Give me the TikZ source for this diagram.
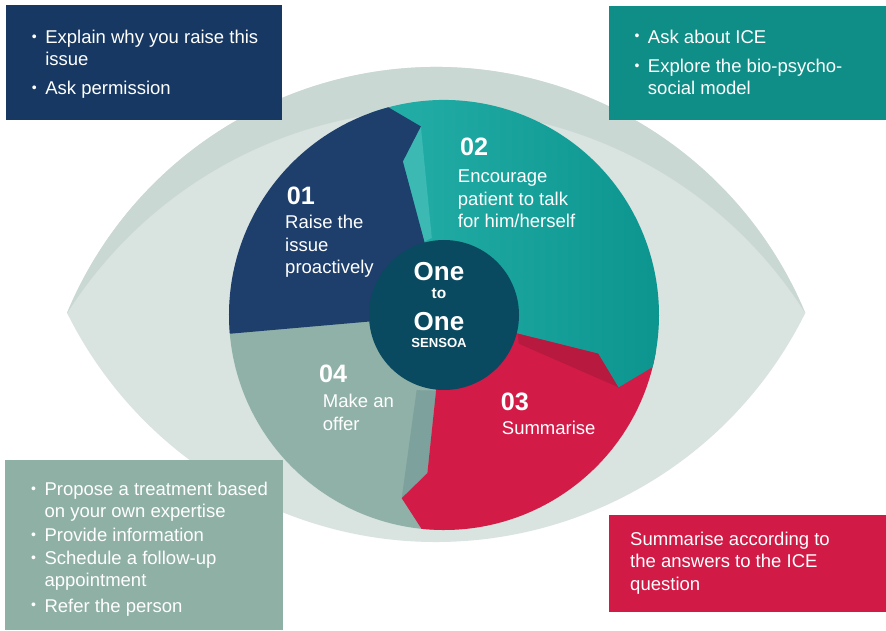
\documentclass[tikz,border=0pt]{standalone}
\usepackage{fontspec}
\setmainfont{Liberation Sans}
\definecolor{eyelight}{HTML}{D9E3E0}
\definecolor{eyedark}{HTML}{CAD8D4}
\definecolor{boxblue}{HTML}{173862}
\definecolor{boxteal}{HTML}{0E8E87}
\definecolor{boxgrey}{HTML}{8FB0A5}
\definecolor{boxred}{HTML}{D11A46}
\definecolor{segblue}{HTML}{1E3E6C}
\definecolor{segteala}{HTML}{25AFA9}
\definecolor{segtealb}{HTML}{0B958E}
\definecolor{tealface}{HTML}{3CB9B3}
\definecolor{segred}{HTML}{D31B47}
\definecolor{redface}{HTML}{B8193F}
\definecolor{seggrey}{HTML}{90B1A7}
\definecolor{greyface}{HTML}{7DA19C}
\definecolor{hubcol}{HTML}{0A4A60}
\newcommand{\dotmark}{\raisebox{2pt}{\fontsize{12}{12}\selectfont\textbullet}}
\tikzset{
  boxtxt/.style={anchor=base west, inner sep=0pt, text=white, font=\fontsize{15.8}{18.8}\selectfont},
  segtxt/.style={anchor=base west, inner sep=0pt, text=white, align=left, font=\fontsize{15.8}{19}\selectfont},
  numtxt/.style={anchor=base west, inner sep=0pt, text=white, font=\bfseries\fontsize{21.5}{24}\selectfont},
  hubtxt/.style={anchor=base, inner sep=0pt, text=white}
}
\begin{document}
\begin{tikzpicture}[x=0.03cm,y=0.03cm]
    \fill[white] (0,0) rectangle (886,630);
    \useasboundingbox (0,0) rectangle (886,630);

    % 眼睛
    \fill[eyelight] (67,317) arc[start angle=157.35, end angle=22.65, radius=400]
        arc[start angle=-26.38, end angle=-153.62, radius=412] -- cycle;
    \fill[eyedark] (67,317) arc[start angle=157.35, end angle=22.65, radius=400]
        arc[start angle=32.37, end angle=147.63, radius=436.9] -- cycle;

    % 四个扇形
    \begin{scope}[shift={(444,315)}]
    \fill[seggrey] (0,0) -- (-92:215) arc[start angle=-92, end angle=-178, radius=215] -- cycle;
    \fill[greyface] (-96:76) -- (-96:159) -- (-103:188) -- (-110:80) -- cycle;
    \fill[segred] (0,0) -- (-10:215) arc[start angle=-10, end angle=-96, radius=215]
        -- (-103:188) -- (-96:159) -- cycle;
    \fill[redface] (-14:76) -- (-14:159) -- (-22.5:189) -- (-21:80) -- cycle;
    \shade[left color=segteala, right color=segtealb] (0,0) -- (110:215)
        arc[start angle=110, end angle=-14, radius=215] -- (-22.5:189) -- (-14:159) -- cycle;
    \fill[tealface] (105:76) -- (105:159) -- (97:190) -- (99:78) -- cycle;
    \fill[segblue] (0,0) -- (185:215) arc[start angle=185, end angle=105, radius=215]
        -- (97:190) -- (105:159) -- cycle;
    \end{scope}

    % 中心
    \node[circle, fill=hubcol, minimum size=4.5cm, inner sep=0pt] (hub) at (444,315) {};
    \node[hubtxt, font=\bfseries\fontsize{22.2}{24}\selectfont] (one1) at (439,349.3) {One};
    \node[hubtxt, font=\bfseries\fontsize{13.2}{14}\selectfont] (to) at (439,331.7) {to};
    \node[hubtxt, font=\bfseries\fontsize{22.2}{24}\selectfont] (one2) at (439,299.3) {One};
    \node[hubtxt, font=\bfseries\fontsize{11.2}{12}\selectfont] (sensoa) at (439,282.7) {SENSOA};

    % 扇形文字 (多行文字按最后一行基线放置)
    \node[numtxt] (n1) at (286.7,425) {01};
    \node[segtxt] (s1) at (285,356.7) {Raise the\\issue\\proactively};
    \node[numtxt] (n2) at (460,474.3) {02};
    \node[segtxt] (s2) at (457.7,402.7) {Encourage\\patient to talk\\for him/herself};
    \node[numtxt] (n3) at (500.7,219.3) {03};
    \node[segtxt] (s3) at (501.7,196) {Summarise};
    \node[numtxt] (n4) at (319,247.3) {04};
    \node[segtxt] (s4) at (322.7,200) {Make an\\offer};

    % 四个方框
    \fill[boxblue] (6,510) rectangle (282,625);
    \fill[boxteal] (609,510) rectangle (886,624);
    \fill[boxgrey] (5,0) rectangle (283,170);
    \fill[boxred] (609,18) rectangle (886,115);

    \node[boxtxt] (tl) at (31.7,586.6) {\begin{tabular}[t]{@{}p{4mm}@{}l@{}}
        \dotmark & Explain why you raise this\\
                 & issue\\[6pt]
        \dotmark & Ask permission
        \end{tabular}};
    \node[boxtxt] (tr) at (634.4,586.7) {\begin{tabular}[t]{@{}p{4mm}@{}l@{}}
        \dotmark & Ask about ICE\\[6pt]
        \dotmark & Explore the bio-psycho-\\
                 & social model
        \end{tabular}};
    \node[boxtxt] (bl) at (31,134.3) {\begin{tabular}[t]{@{}p{4mm}@{}l@{}}
        \dotmark & Propose a treatment based\\
                 & on your own expertise\\[1.5pt]
        \dotmark & Provide information\\[1pt]
        \dotmark & Schedule a follow-up\\
                 & appointment\\[3pt]
        \dotmark & Refer the person
        \end{tabular}};
    \node[boxtxt, align=left] (br) at (630,40) {Summarise according to\\the answers to the ICE\\question};
\end{tikzpicture}
\end{document}
